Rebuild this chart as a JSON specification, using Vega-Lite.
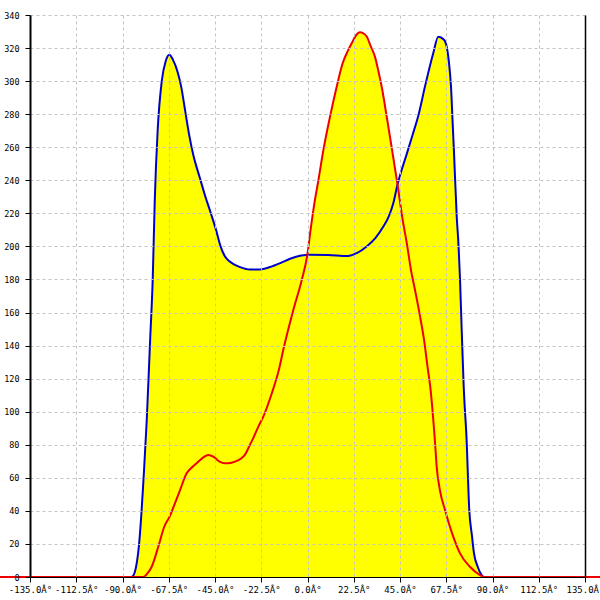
{
  "$schema": "https://vega.github.io/schema/vega-lite/v6.json",
  "width": 555,
  "height": 562,
  "autosize": {"type": "none"},
  "padding": {"left": 30, "top": 15, "right": 15, "bottom": 23},
  "background": "white",
  "config": {
    "view": {"stroke": null},
    "axis": {
      "labelFont": "DejaVu Sans Mono",
      "labelColor": "#000000",
      "domainColor": "#000000",
      "tickColor": "#000000",
      "gridColor": "#c4c4c4",
      "gridDash": [3, 3],
      "gridWidth": 1,
      "tickWidth": 1,
      "domainWidth": 2
    }
  },
  "data": {
    "values": [
      {"series": "blue", "angle": -150, "value": 0},
      {"series": "blue", "angle": -86, "value": 0},
      {"series": "blue", "angle": -85, "value": 0.5},
      {"series": "blue", "angle": -84, "value": 3},
      {"series": "blue", "angle": -82, "value": 19},
      {"series": "blue", "angle": -79.5, "value": 65},
      {"series": "blue", "angle": -78.2, "value": 95},
      {"series": "blue", "angle": -76.5, "value": 145},
      {"series": "blue", "angle": -75.3, "value": 180},
      {"series": "blue", "angle": -74.3, "value": 228},
      {"series": "blue", "angle": -72.9, "value": 270},
      {"series": "blue", "angle": -70.9, "value": 300},
      {"series": "blue", "angle": -69, "value": 312},
      {"series": "blue", "angle": -67.2, "value": 316},
      {"series": "blue", "angle": -65.5, "value": 313},
      {"series": "blue", "angle": -63.3, "value": 306},
      {"series": "blue", "angle": -61.5, "value": 297},
      {"series": "blue", "angle": -59.5, "value": 282},
      {"series": "blue", "angle": -57.5, "value": 267},
      {"series": "blue", "angle": -55.5, "value": 255},
      {"series": "blue", "angle": -52.5, "value": 242},
      {"series": "blue", "angle": -49.9, "value": 231},
      {"series": "blue", "angle": -47, "value": 220},
      {"series": "blue", "angle": -44.5, "value": 210},
      {"series": "blue", "angle": -42.3, "value": 200},
      {"series": "blue", "angle": -40.2, "value": 194},
      {"series": "blue", "angle": -38, "value": 191},
      {"series": "blue", "angle": -35.5, "value": 189},
      {"series": "blue", "angle": -32.8, "value": 187.5},
      {"series": "blue", "angle": -28, "value": 186},
      {"series": "blue", "angle": -23, "value": 186},
      {"series": "blue", "angle": -18.2, "value": 187.5},
      {"series": "blue", "angle": -13, "value": 190},
      {"series": "blue", "angle": -8.5, "value": 192.5},
      {"series": "blue", "angle": -3, "value": 194.5},
      {"series": "blue", "angle": 1.2, "value": 195},
      {"series": "blue", "angle": 10, "value": 194.8},
      {"series": "blue", "angle": 19.7, "value": 194.2},
      {"series": "blue", "angle": 24, "value": 196},
      {"series": "blue", "angle": 28.8, "value": 200},
      {"series": "blue", "angle": 33, "value": 205},
      {"series": "blue", "angle": 36.9, "value": 212},
      {"series": "blue", "angle": 39.5, "value": 218},
      {"series": "blue", "angle": 41.7, "value": 226},
      {"series": "blue", "angle": 43.9, "value": 238},
      {"series": "blue", "angle": 46, "value": 247},
      {"series": "blue", "angle": 48.3, "value": 256},
      {"series": "blue", "angle": 51, "value": 267},
      {"series": "blue", "angle": 53.9, "value": 279},
      {"series": "blue", "angle": 57.2, "value": 297},
      {"series": "blue", "angle": 61.2, "value": 317},
      {"series": "blue", "angle": 63.6, "value": 326.9},
      {"series": "blue", "angle": 66.4, "value": 325},
      {"series": "blue", "angle": 68, "value": 319},
      {"series": "blue", "angle": 69.3, "value": 305},
      {"series": "blue", "angle": 69.8, "value": 297},
      {"series": "blue", "angle": 70.5, "value": 278},
      {"series": "blue", "angle": 71.3, "value": 256},
      {"series": "blue", "angle": 72.6, "value": 218},
      {"series": "blue", "angle": 73.5, "value": 200},
      {"series": "blue", "angle": 74.2, "value": 180},
      {"series": "blue", "angle": 75, "value": 150},
      {"series": "blue", "angle": 76, "value": 115},
      {"series": "blue", "angle": 77.4, "value": 83},
      {"series": "blue", "angle": 78.7, "value": 40.5},
      {"series": "blue", "angle": 80, "value": 25},
      {"series": "blue", "angle": 81, "value": 14.3},
      {"series": "blue", "angle": 82.8, "value": 6.2},
      {"series": "blue", "angle": 84.7, "value": 1.2},
      {"series": "blue", "angle": 86, "value": 0},
      {"series": "blue", "angle": 150, "value": 0},
      {"series": "red", "angle": -150, "value": 0},
      {"series": "red", "angle": -80, "value": 0},
      {"series": "red", "angle": -78, "value": 2},
      {"series": "red", "angle": -75.8, "value": 6.2},
      {"series": "red", "angle": -72.6, "value": 18.3},
      {"series": "red", "angle": -69.7, "value": 30.4},
      {"series": "red", "angle": -66.9, "value": 37},
      {"series": "red", "angle": -64.5, "value": 44.6},
      {"series": "red", "angle": -62, "value": 52.6},
      {"series": "red", "angle": -58.8, "value": 62.7},
      {"series": "red", "angle": -55.9, "value": 66.7},
      {"series": "red", "angle": -53.1, "value": 69.8},
      {"series": "red", "angle": -50.5, "value": 72.5},
      {"series": "red", "angle": -48.3, "value": 73.8},
      {"series": "red", "angle": -45.8, "value": 72.8},
      {"series": "red", "angle": -43, "value": 70},
      {"series": "red", "angle": -40.1, "value": 68.8},
      {"series": "red", "angle": -37.5, "value": 69},
      {"series": "red", "angle": -35.3, "value": 69.8},
      {"series": "red", "angle": -32.5, "value": 71.5},
      {"series": "red", "angle": -30.4, "value": 74},
      {"series": "red", "angle": -28, "value": 80},
      {"series": "red", "angle": -26.4, "value": 84},
      {"series": "red", "angle": -23.9, "value": 91},
      {"series": "red", "angle": -21.5, "value": 97},
      {"series": "red", "angle": -17.4, "value": 111},
      {"series": "red", "angle": -14, "value": 125},
      {"series": "red", "angle": -11.8, "value": 137.3},
      {"series": "red", "angle": -6.9, "value": 161.5},
      {"series": "red", "angle": -2.8, "value": 179.7},
      {"series": "red", "angle": -0.1, "value": 194.8},
      {"series": "red", "angle": 1.5, "value": 210},
      {"series": "red", "angle": 3.6, "value": 228},
      {"series": "red", "angle": 5.3, "value": 240},
      {"series": "red", "angle": 7.4, "value": 256},
      {"series": "red", "angle": 11.3, "value": 280.5},
      {"series": "red", "angle": 14.2, "value": 296.6},
      {"series": "red", "angle": 17.1, "value": 310.8},
      {"series": "red", "angle": 19.5, "value": 318},
      {"series": "red", "angle": 21.5, "value": 322.9},
      {"series": "red", "angle": 23.5, "value": 327.5},
      {"series": "red", "angle": 25.5, "value": 329.5},
      {"series": "red", "angle": 27, "value": 329},
      {"series": "red", "angle": 28.8, "value": 327},
      {"series": "red", "angle": 30.8, "value": 321},
      {"series": "red", "angle": 32.8, "value": 314.8},
      {"series": "red", "angle": 34.5, "value": 306},
      {"series": "red", "angle": 36.1, "value": 296.6},
      {"series": "red", "angle": 38.8, "value": 276.5},
      {"series": "red", "angle": 41.4, "value": 256.3},
      {"series": "red", "angle": 43.7, "value": 238.2},
      {"series": "red", "angle": 46.3, "value": 216},
      {"series": "red", "angle": 48.3, "value": 202},
      {"series": "red", "angle": 50.3, "value": 186},
      {"series": "red", "angle": 52.3, "value": 173.6},
      {"series": "red", "angle": 54.7, "value": 158},
      {"series": "red", "angle": 56.7, "value": 143.4},
      {"series": "red", "angle": 58.3, "value": 128},
      {"series": "red", "angle": 59.9, "value": 113},
      {"series": "red", "angle": 61.2, "value": 95},
      {"series": "red", "angle": 62, "value": 82},
      {"series": "red", "angle": 62.9, "value": 66},
      {"series": "red", "angle": 64.5, "value": 52},
      {"series": "red", "angle": 66.9, "value": 40.5},
      {"series": "red", "angle": 70.9, "value": 24.4},
      {"series": "red", "angle": 74.2, "value": 14.3},
      {"series": "red", "angle": 79, "value": 6.2},
      {"series": "red", "angle": 83.9, "value": 1.2},
      {"series": "red", "angle": 86, "value": 0},
      {"series": "red", "angle": 150, "value": 0}
    ]
  },
  "encoding": {
    "x": {
      "field": "angle",
      "type": "quantitative",
      "scale": {"domain": [-135, 135], "nice": false, "zero": false},
      "axis": {
        "title": null,
        "values": [-135, -112.5, -90, -67.5, -45, -22.5, 0, 22.5, 45, 67.5, 90, 112.5, 135],
        "labelExpr": "(datum.value < 0 ? '-' : '') + format(abs(datum.value), '.1f') + 'Â°'",
        "labelFontSize": 9,
        "labelFlush": false,
        "labelOverlap": false,
        "labelBound": false,
        "tickSize": 5,
        "labelPadding": 3,
        "domainWidth": 1,
        "grid": true,
        "zindex": 1
      }
    }
  },
  "layer": [
    {
      "encoding": {
        "y": {
          "field": "value",
          "type": "quantitative",
          "stack": null,
          "scale": {"domain": [0, 340], "nice": false},
          "axis": {
            "title": null,
            "values": [0, 20, 40, 60, 80, 100, 120, 140, 160, 180, 200, 220, 240, 260, 280, 300, 320, 340],
            "labelFontSize": 8.5,
            "tickSize": 5,
            "labelPadding": 6,
            "grid": true,
            "zindex": 1
          }
        }
      },
      "layer": [
        {
          "mark": {"type": "area", "color": "#ffff00", "fillOpacity": 1, "interpolate": "monotone"},
          "encoding": {"detail": {"field": "series"}}
        },
        {
          "transform": [{"filter": "datum.series === 'blue'"}],
          "mark": {"type": "line", "color": "#0000cc", "strokeWidth": 2, "interpolate": "monotone"},
          "encoding": {}
        },
        {
          "transform": [{"filter": "datum.series === 'red'"}],
          "mark": {"type": "line", "color": "#ee0000", "strokeWidth": 2, "interpolate": "monotone"},
          "encoding": {}
        }
      ]
    },
    {
      "transform": [{"filter": "datum.series === 'red'"}],
      "mark": {"type": "line", "opacity": 0},
      "encoding": {
        "y": {
          "field": "value",
          "type": "quantitative",
          "scale": {"domain": [0, 340], "nice": false},
          "axis": {"orient": "right", "title": null, "labels": false, "ticks": false, "grid": false, "domainWidth": 1.5, "zindex": 2}
        }
      }
    }
  ],
  "resolve": {"scale": {"y": "independent"}}
}
